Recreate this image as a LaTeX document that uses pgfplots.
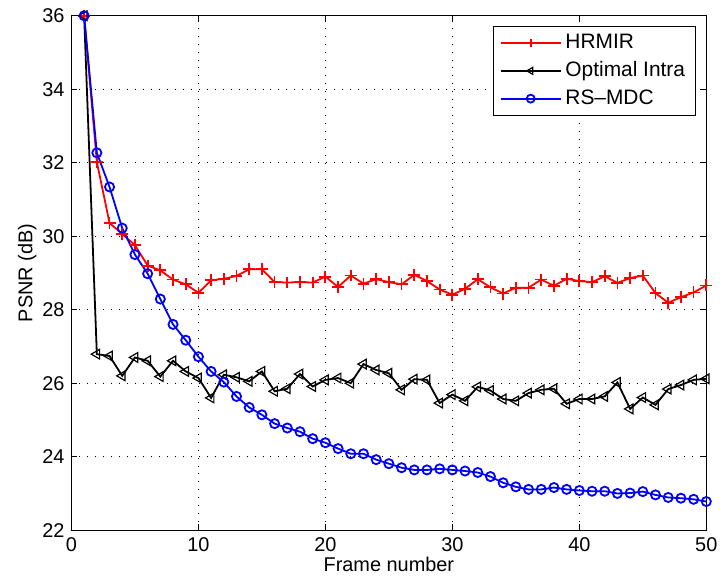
\documentclass[border=0pt]{standalone}
\usepackage{pgfplots}
\pgfplotsset{compat=1.18}
\usepackage{fontspec}
\setmainfont{Liberation Sans}

\pgfplotstableread{
x hrmir intra rsmdc
1 36.00 36.00 36.00
2 32.02 26.79 32.27
3 30.36 26.74 31.34
4 30.06 26.20 30.22
5 29.76 26.70 29.50
6 29.20 26.61 28.98
7 29.07 26.18 28.29
8 28.82 26.61 27.60
9 28.69 26.32 27.17
10 28.46 26.14 26.72
11 28.80 25.60 26.32
12 28.84 26.23 26.03
13 28.92 26.16 25.64
14 29.10 26.05 25.34
15 29.10 26.32 25.14
16 28.75 25.78 24.90
17 28.74 25.85 24.78
18 28.75 26.25 24.68
19 28.74 25.91 24.49
20 28.90 26.09 24.38
21 28.62 26.14 24.22
22 28.93 26.00 24.08
23 28.71 26.52 24.08
24 28.83 26.36 23.92
25 28.75 26.27 23.81
26 28.69 25.82 23.70
27 28.95 26.11 23.64
28 28.78 26.09 23.64
29 28.55 25.46 23.67
30 28.41 25.69 23.64
31 28.57 25.52 23.61
32 28.83 25.90 23.57
33 28.61 25.80 23.46
34 28.44 25.57 23.29
35 28.60 25.52 23.18
36 28.60 25.73 23.11
37 28.82 25.82 23.11
38 28.65 25.85 23.16
39 28.84 25.44 23.11
40 28.78 25.57 23.08
41 28.75 25.57 23.06
42 28.91 25.64 23.06
43 28.73 26.02 23.00
44 28.86 25.30 23.01
45 28.93 25.61 23.05
46 28.45 25.41 22.96
47 28.19 25.84 22.89
48 28.34 25.95 22.87
49 28.47 26.09 22.84
50 28.66 26.12 22.78
}\datatable

\begin{document}
\begin{tikzpicture}
\begin{axis}[
  scale only axis,
  width=319pt, height=258.5pt,
  xmin=0, xmax=50, ymin=22, ymax=36,
  xtick={0,10,...,50}, ytick={22,24,...,36},
  tick align=inside, major tick length=3pt,
  axis line style={black, line width=0.5pt},
  every tick/.style={black, line width=0.4pt},
  grid=major,
  major grid style={black, line width=0.5pt, dash pattern=on 0.5pt off 3.5pt},
  font=\fontsize{10}{12}\selectfont,
  tick label style={font=\fontsize{10}{12}\selectfont},
  /pgf/number format/assume math mode=true,
  xlabel={Frame number}, ylabel={PSNR (dB)},
  xlabel style={yshift=4pt},
  ylabel style={yshift=-4pt},
  legend style={at={(0.983,0.980)}, anchor=north east, draw=black,
    line width=0.5pt, font=\fontsize{10.5}{12}\selectfont,
    inner xsep=3pt, inner ysep=2pt, row sep=1pt, cells={anchor=west}},
  legend image code/.code={
    \draw[mark repeat=2, mark phase=2, #1, mark size=2pt]
      plot coordinates {(0pt,0pt) (15pt,0pt) (30pt,0pt)};
  },
]
\addplot[red, line width=0.9pt, mark=+, mark size=3pt,
  mark options={line width=0.9pt}] table[x=x, y=hrmir] {\datatable};
\addlegendentry{HRMIR}
\addplot[black, line width=0.9pt, mark=triangle, mark size=2.8pt,
  mark options={rotate=90, line width=0.6pt, fill=white}] table[x=x, y=intra] {\datatable};
\addlegendentry{Optimal Intra}
\addplot[blue, line width=0.9pt, mark=o, mark size=2.3pt,
  mark options={line width=0.9pt}] table[x=x, y=rsmdc] {\datatable};
\addlegendentry{RS{\textendash}MDC}
\end{axis}
\path (current axis.south west) ++(-35.9pt,-28.7pt);
\path (current axis.north east) ++(7pt,7.9pt);
\end{tikzpicture}
\end{document}
